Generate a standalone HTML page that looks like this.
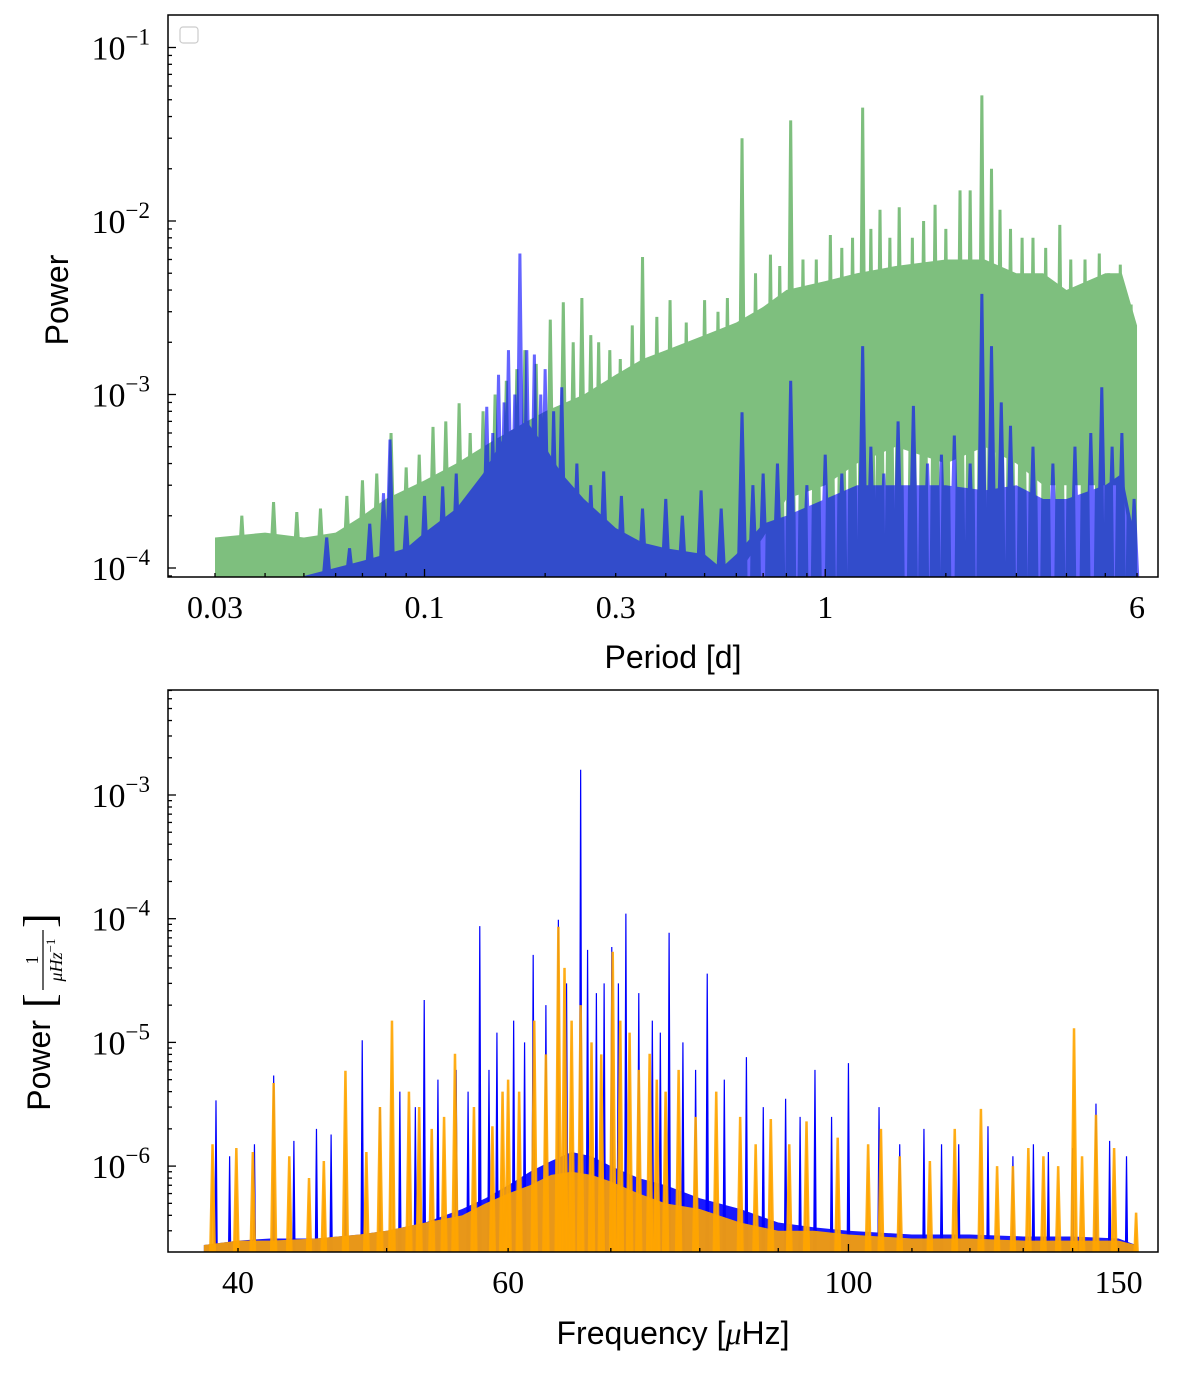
<!DOCTYPE html>
<html><head><meta charset="utf-8"><style>
html,body{margin:0;padding:0;background:#fff;}
svg text{font-family:"Liberation Serif",serif;fill:#000;}
.lab{font-family:"Liberation Sans",sans-serif;}
</style></head><body>
<svg id="fig" width="1200" height="1370" viewBox="0 0 1200 1370" xmlns="http://www.w3.org/2000/svg">
<defs>
<clipPath id="c1"><rect x="168" y="15" width="990" height="562"/></clipPath>
<clipPath id="c2"><rect x="168" y="690" width="990" height="562"/></clipPath>
</defs>
<g clip-path="url(#c1)">
<g id="top-green" opacity="0.5"></g>
<g id="top-blue" opacity="0.6"></g>
</g>
<g id="bot-marks" clip-path="url(#c2)"></g>
<rect x="168" y="15" width="990" height="562" fill="none" stroke="#000" stroke-width="1.5"/>
<rect x="168" y="690" width="990" height="562" fill="none" stroke="#000" stroke-width="1.5"/>
<rect x="180" y="27" width="18" height="16" rx="3" fill="#fff" stroke="#ccc" stroke-width="1.2"/>
<g id="axes"></g>
<text class="lab" x="0" y="0" font-size="32" text-anchor="middle" transform="translate(68,300) rotate(-90)">Power</text>
<text class="lab" x="673" y="668" font-size="32" text-anchor="middle">Period [d]</text>
<text class="lab" x="673" y="1344" font-size="32" text-anchor="middle">Frequency [<tspan font-family="Liberation Serif" font-style="italic">μ</tspan>Hz]</text>
<g transform="translate(50,1000) rotate(-90)">
<text class="lab" x="-20" y="0" font-size="32" text-anchor="end">Power</text>
<text x="-8" y="4" font-size="44">[</text>
<text x="40" y="-12" font-size="18" text-anchor="middle">1</text>
<line x1="10" y1="-7" x2="70" y2="-7" stroke="#000" stroke-width="1.2"/>
<text x="40" y="12" font-size="18" text-anchor="middle" font-style="italic">μHz<tspan font-size="13" dy="-7" font-style="normal">−1</tspan></text>
<text x="72" y="4" font-size="44">]</text>
</g>
</svg>
<script>
// ---------- Top panel data (period in days, power) ----------
const greenBandP  = [0.03,0.04,0.05,0.06,0.07,0.08,0.1,0.12,0.15,0.18,0.2,0.25,0.3,0.35,0.4,0.5,0.6,0.7,0.8,1.0,1.2,1.5,2,2.5,3,3.5,4,4.5,5,5.5,6];
const greenBandHi = [1.5e-4,1.6e-4,1.5e-4,1.6e-4,2e-4,2.5e-4,3.2e-4,4e-4,5.5e-4,7e-4,8e-4,1e-3,1.3e-3,1.6e-3,1.8e-3,2.2e-3,2.6e-3,3.2e-3,4e-3,4.5e-3,5e-3,5.5e-3,6e-3,6e-3,5e-3,5e-3,4e-3,4.5e-3,5e-3,5e-3,2.5e-3];
const greenBandLo = [8e-5,8e-5,8e-5,8e-5,8e-5,8e-5,8e-5,8e-5,8e-5,8e-5,8e-5,8e-5,8e-5,8e-5,8e-5,8e-5,9e-5,1.5e-4,2.5e-4,3e-4,4e-4,5e-4,4e-4,5e-4,4e-4,3e-4,3e-4,3e-4,3e-4,3e-4,8e-5];
const greenSpikeP = [0.035,0.042,0.048,0.055,0.064,0.07,0.076,0.0825,0.09,0.097,0.105,0.113,0.122,0.13,0.14,0.15,0.16,0.17,0.178,0.19,0.206,0.222,0.235,0.247,0.26,0.272,0.29,0.308,0.33,0.35,0.38,0.41,0.45,0.5,0.54,0.57,0.62,0.67,0.73,0.77,0.82,0.88,0.95,1.03,1.1,1.17,1.24,1.3,1.37,1.45,1.53,1.65,1.76,1.88,2.0,2.17,2.3,2.46,2.6,2.73,2.9,3.1,3.3,3.55,3.85,4.1,4.45,4.83,5.1,5.45,5.8];
const greenSpikeV = [2e-4,2.4e-4,2.1e-4,2.2e-4,2.6e-4,3.2e-4,3.5e-4,6.0e-4,3.8e-4,4.5e-4,6.5e-4,7e-4,8.9e-4,6e-4,8e-4,1e-3,1.2e-3,1.4e-3,1.8e-3,1.5e-3,2.7e-3,3.4e-3,2e-3,3.6e-3,2.2e-3,2.0e-3,1.8e-3,1.6e-3,2.5e-3,6.2e-3,2.8e-3,3.5e-3,2.6e-3,3.5e-3,3e-3,3.6e-3,3.0e-2,5e-3,6.4e-3,5.5e-3,3.8e-2,6e-3,6e-3,8.3e-3,7e-3,8e-3,4.5e-2,9e-3,1.16e-2,8e-3,1.2e-2,8e-3,1e-2,1.24e-2,9e-3,1.5e-2,1.5e-2,5.3e-2,2e-2,1.16e-2,9e-3,8e-3,8e-3,7e-3,9.5e-3,6e-3,6.0e-3,6.5e-3,5e-3,5.6e-3,3.3e-3];
const blueBandP  = [0.05,0.07,0.09,0.1,0.12,0.14,0.16,0.18,0.2,0.22,0.25,0.3,0.35,0.4,0.5,0.55,0.6,0.7,0.8,1,1.2,1.5,2,2.5,3,3.5,4,5,5.5,6];
const blueBandHi = [9e-5,1.1e-4,1.3e-4,1.6e-4,2.2e-4,3.5e-4,6e-4,7e-4,5e-4,3.5e-4,2.5e-4,1.7e-4,1.4e-4,1.3e-4,1.2e-4,1e-4,1.2e-4,1.8e-4,2e-4,2.5e-4,3e-4,3e-4,3e-4,2.8e-4,3e-4,2.5e-4,2.5e-4,3e-4,3.5e-4,1.3e-4];
const blueSpikeP = [0.057,0.065,0.073,0.079,0.082,0.09,0.1,0.111,0.12,0.128,0.135,0.143,0.148,0.153,0.158,0.162,0.168,0.173,0.18,0.188,0.195,0.2,0.21,0.22,0.24,0.26,0.28,0.31,0.35,0.4,0.44,0.49,0.55,0.62,0.66,0.7,0.76,0.82,0.9,1.0,1.1,1.24,1.3,1.4,1.52,1.66,1.8,1.95,2.1,2.3,2.46,2.6,2.75,2.9,3.3,3.7,4.2,4.6,4.9,5.2,5.5,5.9];
const blueSpikeV = [1.5e-4,1.3e-4,1.8e-4,2.7e-4,5.5e-4,2e-4,2.6e-4,2.95e-4,3.5e-4,2.2e-4,2.4e-4,8.5e-4,6e-4,1.3e-3,9e-4,1.8e-3,1e-3,6.5e-3,1.8e-3,1.7e-3,1e-3,1.4e-3,8e-4,1.1e-3,4e-4,3e-4,3.6e-4,2.6e-4,2.2e-4,2.5e-4,2e-4,2.8e-4,2.2e-4,7.9e-4,3e-4,3.5e-4,4e-4,1.2e-3,3e-4,4.5e-4,3.5e-4,1.9e-3,5e-4,3.5e-4,7e-4,8.6e-4,4e-4,4.5e-4,5.8e-4,4e-4,3.8e-3,1.9e-3,9e-4,6.6e-4,5e-4,4e-4,5e-4,6e-4,1.1e-3,5e-4,6e-4,2.5e-4];
// ---------- Bottom panel data (frequency µHz, power) ----------
const bandF     = [38,40,42,45,48,50,53,56,58,60,62,64,66,68,70,73,76,80,85,90,95,100,110,120,130,140,150,154];
const blueBandV = [2.3e-7,2.5e-7,2.6e-7,2.6e-7,2.8e-7,3e-7,3.5e-7,4.5e-7,5.5e-7,7e-7,9e-7,1.1e-6,1.3e-6,1.2e-6,1e-6,8e-7,7e-7,5.5e-7,4.5e-7,3.5e-7,3.2e-7,3e-7,2.8e-7,2.8e-7,2.7e-7,2.7e-7,2.6e-7,2.3e-7];
const orangeBandV = [2.3e-7,2.5e-7,2.5e-7,2.6e-7,2.8e-7,3e-7,3.5e-7,4e-7,5e-7,6e-7,7e-7,8.5e-7,9e-7,8.5e-7,7.5e-7,6e-7,5e-7,4.5e-7,3.5e-7,3e-7,3e-7,2.8e-7,2.6e-7,2.6e-7,2.5e-7,2.5e-7,2.5e-7,2.3e-7];
const blueF = [38.7,39.5,41,42.2,43.5,45,46,47,48.2,49.5,51,52.2,52.9,54,55.5,56.5,57.5,58.3,59,60.5,61.5,62.3,63.5,64.7,65.5,66.9,67.6,68.5,69.3,70.1,70.8,71.6,73,74.5,75.4,76.4,78,79.5,80.9,83,85.8,88,91,93,95.1,97.5,100,104.7,108,112,115,118,123.3,128,132,135,140,145,148,151.8];
const blueV = [3.4e-6,1.2e-6,1.5e-6,5.4e-6,1.6e-6,2e-6,1.8e-6,1.5e-6,1.04e-5,3e-6,4e-6,3e-6,2.2e-5,5e-6,6e-6,4e-6,8.7e-5,6e-6,1.2e-5,1.5e-5,1e-5,5.1e-5,2e-5,9.8e-5,3e-5,1.6e-3,5.6e-5,2.5e-5,3e-5,5.9e-5,3e-5,1.1e-4,2.5e-5,1.5e-5,1.2e-5,7.7e-5,1e-5,6e-6,3.6e-5,5e-6,7.6e-6,3e-6,3.5e-6,2.5e-6,6e-6,2.5e-6,6.8e-6,3e-6,1.5e-6,2e-6,1.5e-6,1.5e-6,2.1e-6,1.2e-6,1.5e-6,1.3e-6,1.4e-6,3.2e-6,1.6e-6,1.2e-6];
const orangeF = [38.5,39.9,40.9,42.2,43.2,44.5,45.5,47,48.5,49.5,50.4,51.7,52.5,53.5,54.5,55.4,57,58.6,59.5,60,61,62.4,63.5,64.7,65.3,66,66.9,68,69,70.2,71,72,73,74.2,75,76,77.5,79.5,82,85,87,89,91.5,93.9,98.4,103,105,108,113,117.3,122,125,128,131,134,137,140.3,142,145,149,154];
const orangeV = [1.5e-6,1.4e-6,1.3e-6,4.7e-6,1.2e-6,8e-7,1.1e-6,5.9e-6,1.3e-6,3e-6,1.5e-5,4e-6,3e-6,2e-6,2.5e-6,8.1e-6,3e-6,2.1e-6,4e-6,5e-6,4e-6,1.5e-5,8e-6,8.6e-5,4e-5,1.5e-5,2e-5,1e-5,8e-6,5.4e-5,1.5e-5,1.2e-5,6e-6,8.1e-6,5e-6,4e-6,6e-6,2.5e-6,4e-6,2.5e-6,1.5e-6,2.4e-6,1.5e-6,2.3e-6,1.7e-6,1.5e-6,2e-6,1.2e-6,1.1e-6,2e-6,2.9e-6,1e-6,1e-6,1.4e-6,1.2e-6,1e-6,1.3e-5,1.2e-6,2.6e-6,1.4e-6,4.2e-7];
// tick labels
const topXTicks = [0.03,0.1,0.3,1,6];
const topXLabels = ["0.03","0.1","0.3","1","6"];
const topYTicks = [-1,-2,-3,-4];
const botXTicks = [40,60,100,150];
const botXLabels = ["40","60","100","150"];
const botYTicks = [-3,-4,-5,-6];

const NS="http://www.w3.org/2000/svg";
const tx = p => 215 + 400.7*Math.log10(p/0.03);
const ty = v => 568 - 173.5*(Math.log10(v)+4);
const bx = f => 238 + 1534*Math.log10(f/40);
const by = v => 795 + 123.7*(-3 - Math.log10(v));
const TOPFLOOR=ty(8e-5), BOTFLOOR=by(1e-7);

function mk(tag, parent){const e=document.createElementNS(NS,tag);parent.appendChild(e);return e;}
const GG=document.getElementById('top-green'), GB=document.getElementById('top-blue'), G2=document.getElementById('bot-marks'), AX=document.getElementById('axes');

function band(g, xs, hi, lo, fx, fy, floor, fill, op){
  let d='M'+fx(xs[0])+','+fy(hi[0]);
  for(let i=1;i<xs.length;i++) d+=' L'+fx(xs[i])+','+fy(hi[i]);
  for(let i=xs.length-1;i>=0;i--) d+=' L'+fx(xs[i])+','+(lo?fy(lo[i]):floor);
  const p=mk('path',g); p.setAttribute('d',d+'Z'); p.setAttribute('fill',fill); p.setAttribute('fill-opacity',op);
  return p;
}
function spikes(g, xs, vs, fx, fy, floor, hw, fill, op, sw){
  let d='';
  for(let i=0;i<xs.length;i++){const x=fx(xs[i]);d+='M'+(x-hw)+','+floor+' L'+x+','+fy(vs[i])+' L'+(x+hw)+','+floor+'Z ';}
  const p=mk('path',g); p.setAttribute('d',d); p.setAttribute('fill',fill); p.setAttribute('fill-opacity',op);
  p.setAttribute('stroke',fill); p.setAttribute('stroke-opacity',op); p.setAttribute('stroke-width',sw);
  return p;
}
let e;
e=band(GG,greenBandP,greenBandHi,greenBandLo,tx,ty,TOPFLOOR,'#008000',1);


e=spikes(GG,greenSpikeP,greenSpikeV,tx,ty,TOPFLOOR,4,'#008000',1,3);


e=band(GB,blueBandP,blueBandHi,null,tx,ty,TOPFLOOR,'#0000ff',1);


e=spikes(GB,blueSpikeP,blueSpikeV,tx,ty,TOPFLOOR,4,'#0000ff',1,3);



e=band(G2,bandF,blueBandV,null,bx,by,BOTFLOOR,'#0000ff',0.9);


e=spikes(G2,blueF,blueV,bx,by,BOTFLOOR,1.5,'#0000ff',1,1.2);


e=band(G2,bandF,orangeBandV,null,bx,by,BOTFLOOR,'#ffa500',0.9);


e=spikes(G2,orangeF,orangeV,bx,by,BOTFLOOR,3,'#ffa500',0.9,2.5);



function tick(x1,y1,x2,y2){const l=mk('line',AX);l.setAttribute('x1',x1);l.setAttribute('y1',y1);l.setAttribute('x2',x2);l.setAttribute('y2',y2);l.setAttribute('stroke','#000');l.setAttribute('stroke-width','1.3');

}
function powLabel(x,y,exp){const t=mk('text',AX);t.setAttribute('x',x);t.setAttribute('y',y+12);t.setAttribute('font-size','34');t.setAttribute('text-anchor','end');
t.innerHTML='10<tspan font-size="23" dy="-15">−'+Math.abs(exp)+'</tspan>';

}
function xLabel(x,y,s){const t=mk('text',AX);t.setAttribute('x',x);t.setAttribute('y',y);t.setAttribute('font-size','32');t.setAttribute('text-anchor','middle');t.textContent=s;

}
for(const dec of [0.01,0.1,1]) for(let k=1;k<10;k++){const p=dec*k; if(p<0.027||p>6.6) continue; const x=tx(p); const maj=(k===1); tick(x,577,x,577-(maj?8:4));}
topXTicks.forEach((p,i)=>xLabel(tx(p),618,topXLabels[i]));
for(let d=-5;d<=-1;d++) for(let k=1;k<10;k++){const v=k*Math.pow(10,d); const y=ty(v); if(y<15||y>577) continue; tick(168,y,168+(k===1?8:4),y);}
topYTicks.forEach(d=>powLabel(150,ty(Math.pow(10,d)),d));
for(let f=40;f<=150;f+=10){const x=bx(f); tick(x,1252,x,1252-(f===100?8:4));}
botXTicks.forEach((f,i)=>xLabel(bx(f),1293,botXLabels[i]));
for(let d=-7;d<=-2;d++) for(let k=1;k<10;k++){const v=k*Math.pow(10,d); const y=by(v); if(y<690||y>1252) continue; tick(168,y,168+(k===1?8:4),y);}
botYTicks.forEach(d=>powLabel(150,by(Math.pow(10,d)),d));
</script>
</body></html>
